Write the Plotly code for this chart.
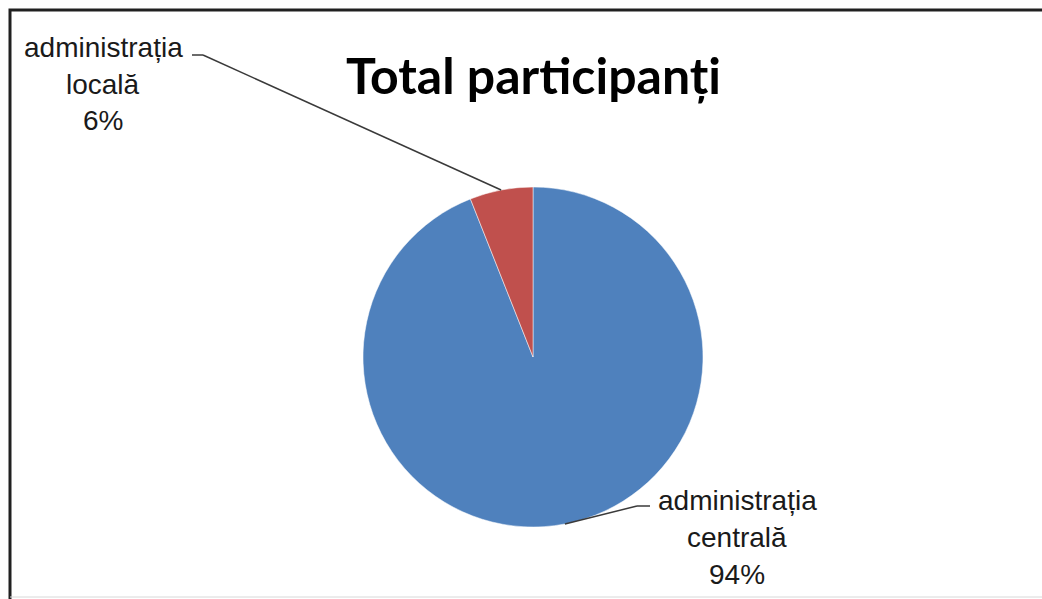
import math
import plotly.graph_objects as go

# ---- data ----
categories = ["administrația centrală", "administrația locală"]
values = [94, 6]
colors = ["#4F81BD", "#C0504D"]
title_text = "Total participanți"

W, H = 1042, 599
# pie geometry (pixels)
cx, cy, r = 533, 357, 170

fig = go.Figure()
fig.add_trace(go.Pie(
    labels=categories,
    values=values,
    sort=False,
    direction="clockwise",
    rotation=0,
    textinfo="none",
    hoverinfo="label+percent",
    marker=dict(colors=colors, line=dict(color="white", width=0.5)),
    domain=dict(x=[(cx - r) / W, (cx + r) / W], y=[(H - cy - r) / H, (H - cy + r) / H]),
    showlegend=False,
))

def px2paper(x, y):
    return x / W, 1 - y / H

# slice mid angles (clockwise from top)
total = sum(values)
mids = []
acc = 0
for v in values:
    mids.append((acc + v / 2) / total * 2 * math.pi)
    acc += v

def edge_point(ang):
    return cx + r * math.sin(ang), cy - r * math.cos(ang)

label_font = dict(family="Liberation Sans, Arial", size=28, color="#1a1a1a")
label_pos = {
    1: dict(x=103, y0=47, knee=(203, 55), end=(192, 55)),
    0: dict(x=737, y0=500, knee=(637, 506), end=(650, 506)),
}
step = 37

annotations = []
shapes = []
for i, name in enumerate(categories):
    pct = round(values[i] / total * 100)
    lines = name.split(" ") + [f"{pct}%"]
    lp = label_pos[i]
    for k, t in enumerate(lines):
        xx, yy = px2paper(lp["x"], lp["y0"] + k * step)
        annotations.append(dict(x=xx, y=yy, xref="paper", yref="paper", text=t,
                                showarrow=False, font=label_font,
                                xanchor="center", yanchor="middle"))
    ex, ey = edge_point(mids[i])
    pts = [(ex, ey), lp["knee"], lp["end"]]
    for (x0, y0), (x1, y1) in zip(pts[:-1], pts[1:]):
        a0 = px2paper(x0, y0)
        a1 = px2paper(x1, y1)
        shapes.append(dict(type="line", xref="paper", yref="paper",
                           x0=a0[0], y0=a0[1], x1=a1[0], y1=a1[1],
                           line=dict(color="#3a3a3a", width=1.5)))

# title
tx, ty = px2paper(533, 75)
annotations.append(dict(x=tx, y=ty, xref="paper", yref="paper", text=f"<b>{title_text}</b>",
                        showarrow=False, font=dict(family="Lato, Open Sans", size=50, color="black"),
                        xanchor="center", yanchor="middle"))

# chart border: left and top dark edges, faint bottom edge
bl = px2paper(10, 610)
tl = px2paper(10, 10)
tr = px2paper(1060, 10)
shapes.append(dict(type="path", xref="paper", yref="paper",
                   path=f"M {bl[0]},{bl[1]} L {tl[0]},{tl[1]} L {tr[0]},{tr[1]}",
                   line=dict(color="#202020", width=3)))
fb0 = px2paper(10, 597)
fb1 = px2paper(1060, 597)
shapes.append(dict(type="line", xref="paper", yref="paper",
                   x0=fb0[0], y0=fb0[1], x1=fb1[0], y1=fb1[1],
                   line=dict(color="#d8d8d8", width=1)))

fig.update_layout(
    width=W, height=H,
    margin=dict(l=0, r=0, t=0, b=0),
    paper_bgcolor="white", plot_bgcolor="white",
    annotations=annotations, shapes=shapes,
)

fig.write_html("out.html", config={"displayModeBar": False},
               post_script="document.body.style.margin='0';document.body.style.overflow='hidden';")
